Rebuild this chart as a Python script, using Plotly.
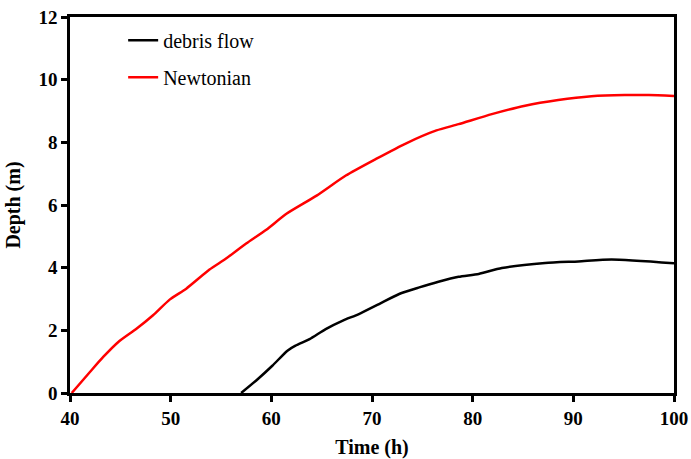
import plotly.graph_objects as go

newton_t = [40.17, 41.98, 43.3, 44.8, 46.6, 48.25, 49.9, 51.55, 53.86, 55.5, 57.5, 59.5, 61.5,
            64.5, 67.4, 70.4, 73.4, 76.4, 78.6, 81.9, 85.2, 88.5, 91.8, 95.1, 97.5, 100.0]
newton_d = [0.0, 0.67, 1.15, 1.63, 2.05, 2.48, 2.98, 3.33, 3.94, 4.29, 4.77, 5.21, 5.72,
            6.3, 6.94, 7.47, 7.97, 8.38, 8.58, 8.9, 9.17, 9.35, 9.47, 9.51, 9.51, 9.48]

debris_t = [57.0, 58.5, 60.1, 61.6, 62.4, 63.8, 65.4, 67.1, 68.7, 70.7, 72.7, 74.7, 76.6,
            78.6, 80.6, 82.9, 87.2, 90.5, 93.8, 100.0]
debris_d = [0.0, 0.40, 0.87, 1.35, 1.51, 1.72, 2.04, 2.31, 2.52, 2.84, 3.16, 3.37, 3.55,
            3.71, 3.80, 3.99, 4.15, 4.20, 4.26, 4.14]

x_ticks = [40, 50, 60, 70, 80, 90, 100]
y_ticks = [0, 2, 4, 6, 8, 10, 12]

serif = "Liberation Serif, Times New Roman, serif"

fig = go.Figure()
fig.add_trace(go.Scatter(x=debris_t, y=debris_d, mode="lines", name="debris flow",
                         legendgroup="a", line=dict(color="black", width=2.5, shape="spline", smoothing=0.6)))
fig.add_trace(go.Scatter(x=newton_t, y=newton_d, mode="lines", name="Newtonian",
                         legendgroup="b", line=dict(color="#ff0000", width=2.5, shape="spline", smoothing=0.6)))

axis_common = dict(showline=True, linecolor="black", linewidth=2.5, mirror=True,
                   ticks="outside", ticklen=6, tickwidth=2.5, tickcolor="black",
                   showgrid=False, zeroline=False, automargin=False,
                   ticklabeloverflow="allow",
                   tickfont=dict(family=serif, size=19, color="black", weight="bold"))

fig.update_xaxes(range=[40, 100], tickvals=x_ticks,
                 title=dict(text="<b>Time (h)</b>", font=dict(family=serif, size=20, color="black"), standoff=15),
                 **axis_common)
fig.update_yaxes(range=[0, 12], tickvals=y_ticks,
                 title=dict(text="<b>Depth (m)</b>", font=dict(family=serif, size=20, color="black"), standoff=13),
                 **axis_common)

fig.update_layout(
    width=691, height=459,
    margin=dict(l=70, r=17, t=17, b=66),
    plot_bgcolor="white", paper_bgcolor="white",
    legend=dict(x=0.088, y=0.99, xanchor="left", yanchor="top",
                font=dict(family=serif, size=20, color="black"),
                bgcolor="rgba(0,0,0,0)", tracegroupgap=8),
)

# remove the default 8px page margin so the figure fills the 691x459 window exactly
fig.write_html("out.html", config={"displayModeBar": False},
               post_script="document.body.style.margin='0';")
